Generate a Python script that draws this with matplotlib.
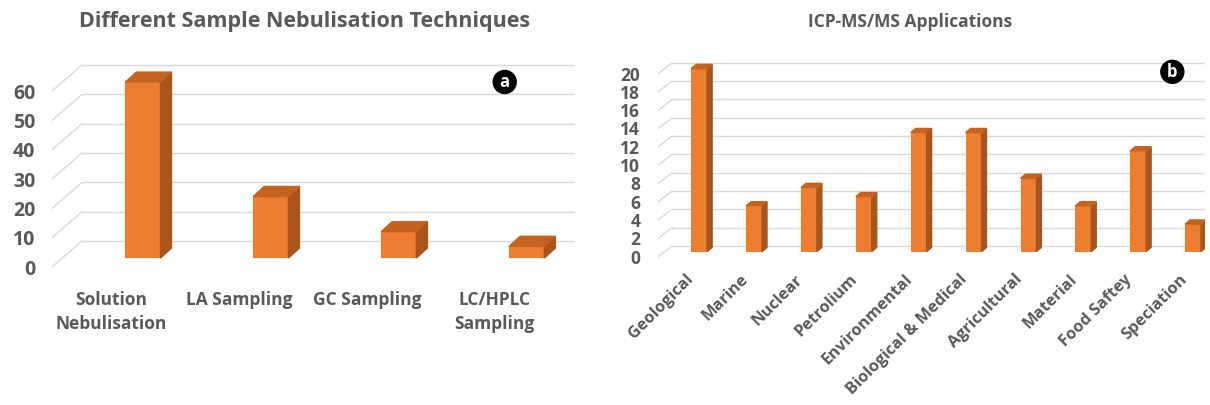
import matplotlib
matplotlib.use('Agg')
import matplotlib.pyplot as plt
from matplotlib.patches import Polygon

plt.rcParams['font.family'] = ['Open Sans', 'DejaVu Sans']

# Panel a data
tech_labels = ['Solution\nNebulisation', 'LA Sampling', 'GC Sampling', 'LC/HPLC\nSampling']
tech_values = [60, 21, 9, 4]
tech_ticks = [0, 10, 20, 30, 40, 50, 60]

# Panel b data
app_labels = ['Geological', 'Marine', 'Nuclear', 'Petrolium', 'Environmental',
              'Biological & Medical', 'Agricultural', 'Material', 'Food Saftey', 'Speciation']
app_values = [20, 5, 7, 6, 13, 13, 8, 5, 11, 3]
app_ticks = [0, 2, 4, 6, 8, 10, 12, 14, 16, 18, 20]

FRONT = '#ED7D31'
SIDE = '#A8541B'
TOP = '#C4631F'
GRID = '#D9D9D9'
TXT = '#595959'


def bars3d(ax, values, width, dx, dy):
    for i, v in enumerate(values):
        x0, x1 = i - width / 2, i + width / 2
        ax.bar(i, v, width=width, color=FRONT, zorder=3)
        ax.add_patch(Polygon([(x1, 0), (x1 + dx, dy), (x1 + dx, v + dy), (x1, v)],
                             closed=True, color=SIDE, zorder=3))
        ax.add_patch(Polygon([(x0, v), (x0 + dx, v + dy), (x1 + dx, v + dy), (x1, v)],
                             closed=True, color=TOP, zorder=3))


def wall(ax, ticks, xlim, wall_dx, back_dy, drop):
    for t in ticks:
        ax.plot([xlim[0] + wall_dx, xlim[1]], [t + back_dy, t + back_dy], color=GRID, lw=1, zorder=1)
        ax.plot([xlim[0], xlim[0] + wall_dx], [t - drop, t + back_dy], color=GRID, lw=1, zorder=1)


def clean(ax):
    for s in ax.spines.values():
        s.set_visible(False)
    ax.tick_params(length=0)


fig = plt.figure(figsize=(12.1, 4.05), dpi=100)

# ---- panel a ----
ax1 = fig.add_axes([0.043, 0.334, 0.432, 0.514])
xl1 = (-0.71, 3.375)
bars3d(ax1, tech_values, 0.275, 0.086, 3.4)
wall(ax1, tech_ticks, xl1, 0.234, 5.8, 3.07)
ax1.set_xlim(*xl1)
ax1.set_ylim(-4, 67)
ax1.set_yticks([t - 3.07 for t in tech_ticks])
ax1.set_yticklabels([str(t) for t in tech_ticks], fontsize=14, fontweight='bold', color=TXT)
ax1.tick_params(axis='y', pad=12)
ax1.set_xticks([])
clean(ax1)
for i, lab in enumerate(tech_labels):
    ax1.text(i - 0.25, -0.1, lab, transform=ax1.get_xaxis_transform(), ha='center', va='top',
             fontsize=12.5, fontweight='bold', color=TXT, linespacing=1.45)
ax1.text(0.866, 0.902, 'a', transform=ax1.transAxes, ha='center', va='center', color='white',
         fontsize=12, fontweight='bold',
         bbox=dict(boxstyle='circle,pad=0.15', fc='black', ec='black'))
fig.text(0.252, 0.946, 'Different Sample Nebulisation Techniques', ha='center', va='center',
         fontsize=15.5, fontweight='bold', color=TXT)

# ---- panel b ----
ax2 = fig.add_axes([0.544, 0.345, 0.452, 0.513])
xl2 = (-0.747, 9.22)
bars3d(ax2, app_values, 0.29, 0.09, 0.45)
wall(ax2, app_ticks, xl2, 0.255, 0.62, 0.55)
ax2.set_xlim(*xl2)
ax2.set_ylim(-1.5, 21.2)
ax2.set_yticks([t - 0.55 for t in app_ticks])
ax2.set_yticklabels([str(t) for t in app_ticks], fontsize=12.5, fontweight='bold', color=TXT)
ax2.tick_params(axis='y', pad=13)
ax2.set_xticks([])
clean(ax2)
for i, lab in enumerate(app_labels):
    ax2.text(i - 0.26, -0.03, lab, transform=ax2.get_xaxis_transform(), ha='right', va='top',
             rotation=45, rotation_mode='anchor', fontsize=11.8, fontweight='bold', color=TXT)
ax2.text(0.94, 0.931, 'b', transform=ax2.transAxes, ha='center', va='center', color='white',
         fontsize=12, fontweight='bold',
         bbox=dict(boxstyle='circle,pad=0.15', fc='black', ec='black'))
fig.text(0.752, 0.946, 'ICP-MS/MS Applications', ha='center', va='center',
         fontsize=12.5, fontweight='bold', color=TXT)

fig.savefig('out.png', dpi=100)
